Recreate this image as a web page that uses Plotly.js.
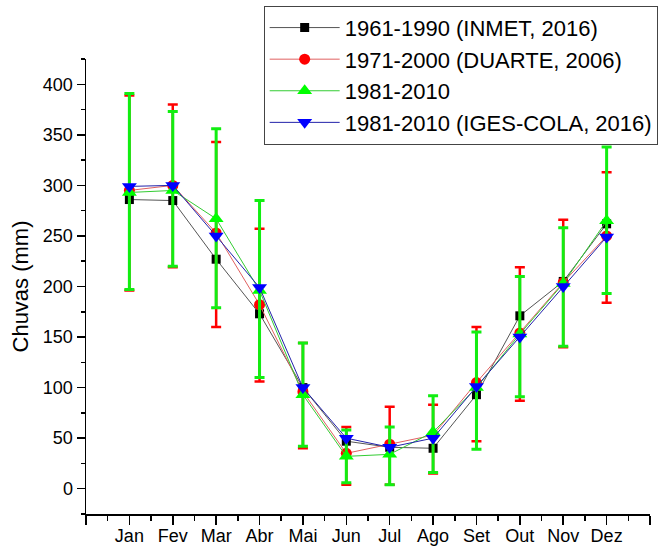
<!DOCTYPE html>
<html>
<head>
<meta charset="utf-8">
<script src="https://cdn.plot.ly/plotly-3.0.1.min.js"></script>
<style>html,body{margin:0;padding:0;background:#fff;}#chart{width:663px;height:547px;}</style>
</head>
<body>
<div id="chart"></div>
<script>
// Data
const months = ['Jan','Fev','Mar','Abr','Mai','Jun','Jul','Ago','Set','Out','Nov','Dez'];
const seriesNames = ['1961-1990 (INMET, 2016)', '1971-2000 (DUARTE, 2006)', '1981-2010', '1981-2010 (IGES-COLA, 2016)'];

const inmet    = [286, 285, 227, 173, 100, 47, 41, 40, 93, 171, 205, 262];
const duarte   = [295, 300, 253, 182, 96, 35, 44, 53, 105, 154, 204, 250];
const r8110    = [293, 295, 267, 196, 93, 32, 34, 56, 100, 153, 203, 265];
const igescola = [299, 300, 250, 199, 100, 50, 41, 50, 101, 150, 200, 249];

// error bar extents (upper / lower deviations)
const duartePlus  = [94, 80, 90, 75, 48, 26, 37, 30, 55, 65, 62, 63];
const duarteMinus = [99, 81, 93, 76, 56, 31, 40, 38, 58, 67, 64, 66];
const r8110Plus   = [98, 78, 89, 89, 51, 26, 27, 36, 55, 57, 55, 73];
const r8110Minus  = [96, 75, 88, 86, 51, 26, 30, 40, 61, 62, 62, 72];

const xPos = months.map((m, i) => i + 1);
const tickVals = [0].concat(xPos, [months.length + 1]);
const tickText = [''].concat(months, ['']);

const FONT = 'Arial, "Liberation Sans", sans-serif';

const traces = [
  {
    x: xPos, y: inmet, name: seriesNames[0], type: 'scatter', mode: 'lines+markers',
    line: {color: '#555555', width: 1},
    marker: {symbol: 'square', size: 9, color: '#000000'}
  },
  {
    x: xPos, y: duarte, name: seriesNames[1], type: 'scatter', mode: 'lines+markers',
    line: {color: '#e06060', width: 1},
    marker: {symbol: 'circle', size: 11, color: '#ff0000'},
    error_y: {type: 'data', symmetric: false, array: duartePlus, arrayminus: duarteMinus,
              color: '#ff0000', thickness: 2.5, width: 5}
  },
  {
    x: xPos, y: r8110, name: seriesNames[2], type: 'scatter', mode: 'lines+markers',
    line: {color: '#33cc33', width: 1},
    marker: {symbol: 'triangle-up', size: 13, color: '#00ff00'},
    error_y: {type: 'data', symmetric: false, array: r8110Plus, arrayminus: r8110Minus,
              color: '#11ee11', thickness: 3, width: 5}
  },
  {
    x: xPos, y: igescola, name: seriesNames[3], type: 'scatter', mode: 'lines+markers',
    line: {color: '#2222aa', width: 1},
    marker: {symbol: 'triangle-down', size: 13, color: '#0000ff'}
  }
];

const layout = {
  width: 663, height: 547,
  margin: {l: 86, r: 13, t: 59, b: 33, autoexpand: false},
  paper_bgcolor: '#ffffff', plot_bgcolor: '#ffffff',
  font: {family: FONT, color: '#000000', size: 18},
  showlegend: true,
  legend: {
    x: 1.0136, xanchor: 'right', y: 1.117, yanchor: 'top',
    bgcolor: '#ffffff', bordercolor: '#444444', borderwidth: 1,
    font: {family: FONT, size: 22, color: '#000000'},
    tracegroupgap: 0, itemwidth: 70
  },
  xaxis: {
    range: [0, months.length + 1],
    tickmode: 'array', tickvals: tickVals, ticktext: tickText,
    ticks: 'outside', ticklen: 9, tickwidth: 1.5, tickcolor: '#000',
    ticklabelstandoff: -4,
    minor: {dtick: 0.5, ticks: 'outside', ticklen: 5, tickwidth: 1.5, tickcolor: '#000'},
    showline: true, linecolor: '#000', linewidth: 1.5,
    showgrid: false, zeroline: false,
    tickfont: {family: FONT, size: 18, color: '#000'},
    automargin: false,
    fixedrange: true
  },
  yaxis: {
    range: [-25, 425],
    tickmode: 'linear', tick0: 0, dtick: 50,
    ticks: 'outside', ticklen: 8, tickwidth: 1.5, tickcolor: '#000',
    minor: {dtick: 25, ticks: 'outside', ticklen: 4, tickwidth: 1.5, tickcolor: '#000'},
    showline: true, linecolor: '#000', linewidth: 1.5,
    showgrid: false, zeroline: false,
    tickfont: {family: FONT, size: 18, color: '#000'},
    title: {text: 'Chuvas (mm)', font: {family: FONT, size: 22, color: '#000'}, standoff: 8},
    automargin: false,
    fixedrange: true
  }
};

Plotly.newPlot('chart', traces, layout, {displayModeBar: false, staticPlot: true});
</script>
</body>
</html>
